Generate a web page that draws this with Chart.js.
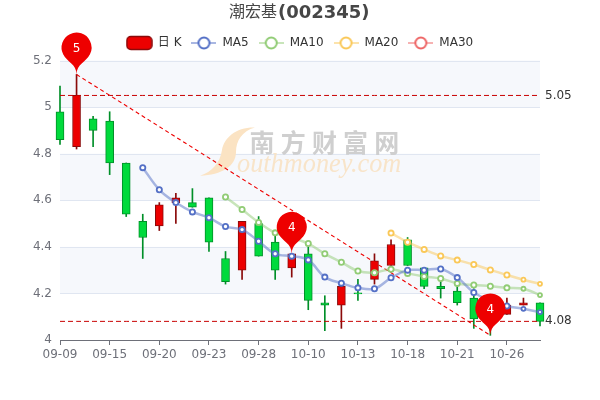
<!DOCTYPE html>
<html>
<head>
<meta charset="utf-8">
<style>body { margin: 0; background: #fff; }</style>
<script src="https://cdn.jsdelivr.net/npm/chart.js@4/dist/chart.umd.min.js"></script>
</head>
<body>
<canvas id="kline" width="600" height="400"></canvas>
<script>
const dates = ["09-09","09-10","09-14","09-15","09-16","09-17","09-20","09-21","09-22","09-23",
  "09-24","09-27","09-28","09-29","09-30","10-10","10-11","10-12","10-13","10-14",
  "10-15","10-18","10-19","10-20","10-21","10-22","10-25","10-26","10-27","10-28"];
const opens  = [4.98,4.83,4.95,4.94,4.76,4.51,4.49,4.59,4.59,4.61,4.35,4.30,4.50,4.42,4.31,4.37,4.16,4.15,4.202,4.26,4.32,4.43,4.31,4.23,4.21,4.18,4.15,4.11,4.15,4.16];
const closes = [4.86,5.05,4.90,4.76,4.54,4.44,4.58,4.61,4.57,4.42,4.25,4.51,4.36,4.30,4.37,4.17,4.15,4.23,4.198,4.34,4.41,4.32,4.23,4.22,4.16,4.09,4.10,4.15,4.16,4.08];
const lows   = [4.84,4.82,4.83,4.71,4.53,4.35,4.47,4.50,4.57,4.38,4.24,4.26,4.36,4.26,4.27,4.13,4.04,4.05,4.17,4.24,4.32,4.32,4.22,4.18,4.15,4.05,4.02,4.11,4.15,4.06];
const highs  = [5.09,5.14,4.96,4.98,4.76,4.54,4.59,4.63,4.65,4.61,4.38,4.51,4.53,4.45,4.37,4.40,4.19,4.23,4.26,4.37,4.43,4.44,4.31,4.25,4.23,4.22,4.18,4.18,4.18,4.16];

const ma5  = [null,null,null,null,null,4.74,4.645,4.59,4.55,4.525,4.487,4.474,4.424,4.37,4.36,4.344,4.27,4.244,4.224,4.22,4.267,4.30,4.30,4.305,4.268,4.204,4.17,4.146,4.134,4.12];
const ma10 = [null,null,null,null,null,null,null,null,null,null,4.614,4.56,4.505,4.46,4.44,4.414,4.37,4.334,4.296,4.289,4.304,4.286,4.273,4.264,4.243,4.236,4.231,4.224,4.22,4.193];
const ma20 = [null,null,null,null,null,null,null,null,null,null,null,null,null,null,null,null,null,null,null,null,4.459,4.42,4.389,4.361,4.343,4.324,4.301,4.279,4.259,4.241];
const ma30 = [];

const yTicks = [4, 4.2, 4.4, 4.6, 4.8, 5, 5.2];
const markLevels = [5.05, 4.08];
const pinIndex = [1, 14, 26];
const pinValues = [5.14, 4.37, 4.02];
const pinLabels = ["5", "4", "4"];

const UP = "#ec0000", UP_BORDER = "#8a0a0a", DOWN = "#00da3c", DOWN_BORDER = "#008f28";
const isUp = i => closes[i] >= opens[i];

function lineIcon(color) {
  const c = document.createElement("canvas");
  c.width = 25; c.height = 14;
  const g = c.getContext("2d");
  g.globalAlpha = 0.5; g.strokeStyle = color; g.lineWidth = 2;
  g.beginPath(); g.moveTo(0, 7); g.lineTo(25, 7); g.stroke();
  g.globalAlpha = 1; g.fillStyle = "#fff"; g.lineWidth = 2;
  g.beginPath(); g.arc(12.5, 7, 5.5, 0, Math.PI * 2); g.fill(); g.stroke();
  return c;
}
function candleIcon() {
  const c = document.createElement("canvas");
  c.width = 27; c.height = 16;
  const g = c.getContext("2d");
  g.fillStyle = UP; g.strokeStyle = UP_BORDER; g.lineWidth = 1.5;
  g.beginPath(); g.roundRect(1, 1.5, 25, 13, 4); g.fill(); g.stroke();
  return c;
}
const legendIcons = {
  "日 K": candleIcon(), MA5: lineIcon("#5470c6"), MA10: lineIcon("#91cc75"),
  MA20: lineIcon("#fac858"), MA30: lineIcon("#ee6666")
};

function maLine(label, data, color) {
  return {
    type: "line", label, data, order: 2, clip: false,
    borderColor: color + "80", borderWidth: 2.5, tension: 0.35,
    pointBackgroundColor: "#fff", pointBorderColor: color, pointBorderWidth: 1.8,
    pointRadius: c => (c.dataIndex >= 28 ? 2 : 2.6),
    spanGaps: false
  };
}
function markLine(level) {
  return {
    type: "line", label: "mark" + level, data: dates.map(() => level), order: 3, clip: false,
    borderColor: "#c80000", borderWidth: 1, borderDash: [5, 3], pointRadius: 0
  };
}

// background bands, watermark, title
const backdrop = {
  id: "backdrop",
  afterLayout(chart) {
    chart.legend.top -= 1.5;
    chart.legend.bottom -= 1.5;
  },
  beforeDatasetsDraw(chart) {
    const { ctx, chartArea: a, scales: { y } } = chart;
    ctx.save();
    ctx.fillStyle = "#f6f8fc";
    for (let i = yTicks.length - 1; i > 0; i -= 2) {
      const top = y.getPixelForValue(yTicks[i]), bottom = y.getPixelForValue(yTicks[i - 1]);
      ctx.fillRect(a.left, top, a.width, bottom - top);
    }
    ctx.strokeStyle = "#e0e6f1"; ctx.lineWidth = 1;
    yTicks.slice(1).forEach(v => {
      const py = Math.round(y.getPixelForValue(v)) + 0.5;
      ctx.beginPath(); ctx.moveTo(a.left, py); ctx.lineTo(a.right, py); ctx.stroke();
    });
    // watermark
    ctx.fillStyle = "#fbe3c3";
    ctx.beginPath();
    ctx.moveTo(255, 127.5);
    ctx.bezierCurveTo(236, 127, 224, 138, 222, 150);
    ctx.bezierCurveTo(220, 163, 212, 172, 200, 175.7);
    ctx.bezierCurveTo(222, 175, 236, 166, 236, 152);
    ctx.bezierCurveTo(236, 141, 242, 131, 255, 127.5);
    ctx.fill();
    ctx.fillStyle = "#cfcfcf";
    ctx.font = "bold 25px 'Noto Sans CJK SC'";
    ctx.textBaseline = "middle"; ctx.textAlign = "center";
    "南方财富网".split("").forEach((t, i) => ctx.fillText(t, 262 + i * 31.2, 142));
    ctx.fillStyle = "#f8e4c9";
    ctx.font = "italic 26.3px 'Liberation Serif'";
    ctx.textAlign = "left"; ctx.textBaseline = "alphabetic";
    ctx.fillText("outhmoney.com", 237, 172);
    ctx.restore();
  },
  afterDraw(chart) {
    const { ctx, chartArea: a, scales: { x, y } } = chart;
    ctx.save();
    ctx.fillStyle = "#464646"; ctx.textBaseline = "middle"; ctx.textAlign = "left";
    ctx.font = "16px 'DejaVu Sans', 'Noto Sans CJK SC'";
    ctx.fillText("潮宏基", 229, 13);
    ctx.font = "bold 18px 'DejaVu Sans'";
    ctx.fillText("(002345)", 278, 13);

    ctx.fillStyle = "#333"; ctx.font = "12px 'DejaVu Sans'";
    markLevels.forEach(v => ctx.fillText(String(v), a.right + 5, y.getPixelForValue(v)));

    pinIndex.forEach((idx, n) => {
      const px = x.getPixelForValue(idx), tip = y.getPixelForValue(pinValues[n]);
      const r = 15, h = 48.6, dy = r * r / (h - r), cy = tip - h + r + dy;
      const ang = Math.asin(dy / r), dx = Math.cos(ang) * r;
      const tx = Math.sin(ang), ty = Math.cos(ang), c1 = r * 0.6, c2 = r * 0.7;
      ctx.fillStyle = "#ee0000";
      ctx.beginPath();
      ctx.moveTo(px - dx, cy + dy);
      ctx.arc(px, cy, r, Math.PI - ang, Math.PI * 2 + ang);
      ctx.bezierCurveTo(px + dx - tx * c1, cy + dy + ty * c1, px, tip - c2, px, tip);
      ctx.bezierCurveTo(px, tip - c2, px - dx + tx * c1, cy + dy + ty * c1, px - dx, cy + dy);
      ctx.closePath();
      ctx.fill();
      ctx.fillStyle = "#fff"; ctx.textAlign = "center"; ctx.font = "12px 'DejaVu Sans'";
      ctx.fillText(pinLabels[n], px, cy + 1);
      ctx.textAlign = "left";
    });
    ctx.restore();
  }
};

new Chart(document.getElementById("kline"), {
  type: "bar",
  plugins: [backdrop],
  data: {
    labels: dates,
    datasets: [
      {
        label: "日 K", data: opens.map((o, i) => [o, closes[i]]), order: 5, clip: false,
        grouped: false, barThickness: 8, borderWidth: 1, borderSkipped: false,
        backgroundColor: c => (isUp(c.dataIndex) ? UP : DOWN),
        borderColor: c => (isUp(c.dataIndex) ? UP_BORDER : DOWN_BORDER)
      },
      {
        label: "wick", data: lows.map((l, i) => [l, highs[i]]), order: 6, clip: false,
        grouped: false, barThickness: 1, borderWidth: 0,
        backgroundColor: c => (isUp(c.dataIndex) ? UP_BORDER : DOWN_BORDER)
      },
      maLine("MA5", ma5, "#5470c6"),
      maLine("MA10", ma10, "#91cc75"),
      maLine("MA20", ma20, "#fac858"),
      maLine("MA30", ma30, "#ee6666"),
      markLine(markLevels[0]),
      markLine(markLevels[1]),
      {
        type: "line", label: "trend", order: 4, clip: false, spanGaps: true,
        data: dates.map((_, i) => (i === pinIndex[0] ? pinValues[0] : i === pinIndex[2] ? pinValues[2] : null)),
        borderColor: "#ee0000", borderWidth: 1.1, borderDash: [4, 3], pointRadius: 0, tension: 0
      }
    ]
  },
  options: {
    responsive: false,
    animation: false,
    layout: { padding: { top: 28.5, right: 0, left: 0, bottom: 0 } },
    plugins: {
      tooltip: { enabled: false },
      title: { display: false },
      legend: {
        position: "top",
        labels: {
          usePointStyle: true, pointStyleWidth: 25, padding: 10, color: "#333",
          font: { size: 12, family: "'DejaVu Sans', 'Noto Sans CJK SC'" },
          filter: item => item.text in legendIcons,
          sort: (a, b) => a.datasetIndex - b.datasetIndex,
          generateLabels(chart) {
            const items = Chart.defaults.plugins.legend.labels.generateLabels(chart);
            items.forEach(it => { it.pointStyle = legendIcons[it.text]; it.hidden = false; it.lineWidth = 0; });
            return items;
          }
        }
      }
    },
    scales: {
      x: {
        offset: false,
        grid: { drawOnChartArea: false, offset: false, tickColor: "#6e7079", tickLength: 5 },
        border: { color: "#6e7079" },
        ticks: { autoSkip: false, maxRotation: 0, color: "#6e7079", padding: 3, font: { size: 12, family: "'DejaVu Sans'" } },
        afterBuildTicks: ax => { ax.ticks = ax.ticks.filter(t => t.value % 3 === 0); },
        afterFit: ax => { ax.height = 60; }
      },
      y: {
        min: yTicks[0], max: yTicks[yTicks.length - 1],
        grid: { display: false },
        border: { display: false },
        afterBuildTicks: ax => { ax.ticks = yTicks.map(value => ({ value })); },
        ticks: { color: "#6e7079", padding: 0, font: { size: 12, family: "'DejaVu Sans'" }, callback: v => String(+v.toFixed(1)) },
        afterFit: ax => { ax.width = 60; }
      },
      // empty right gutter that holds the mark line labels
      gutter: {
        position: "right", axis: "y",
        grid: { display: false }, border: { display: false }, ticks: { display: false },
        afterFit: ax => { ax.width = 60; }
      }
    }
  }
});
</script>
</body>
</html>
